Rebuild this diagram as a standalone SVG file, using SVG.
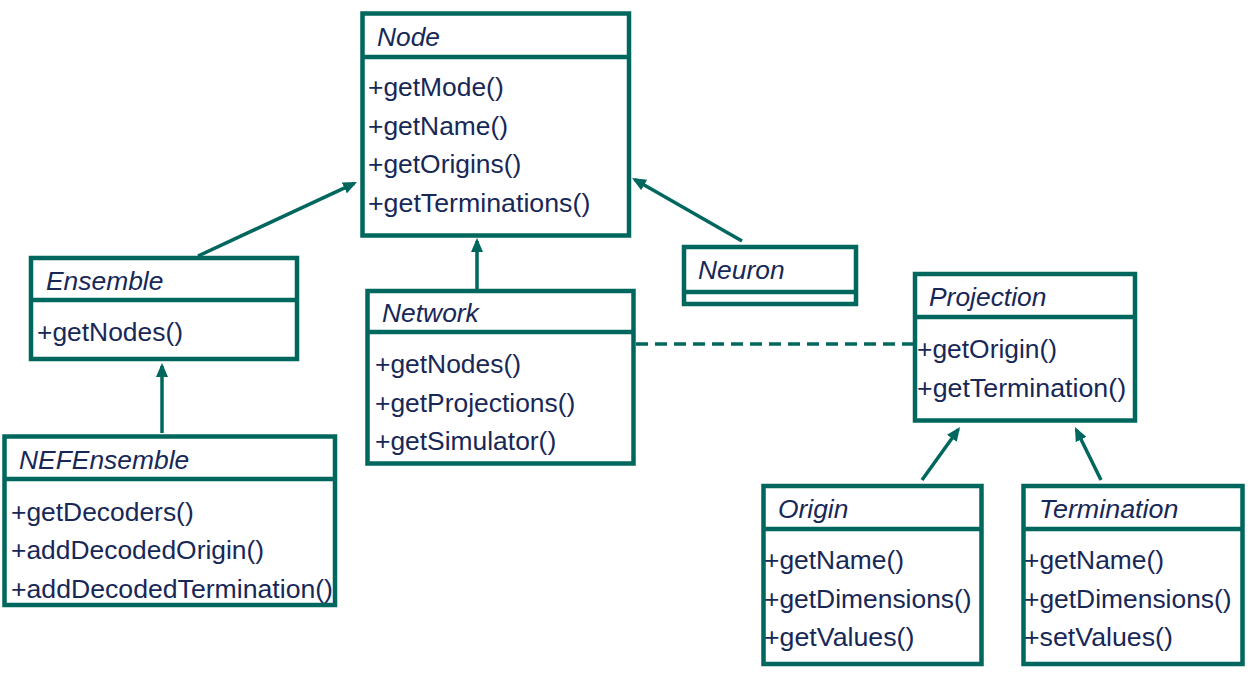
<svg xmlns="http://www.w3.org/2000/svg" width="1251" height="676" viewBox="0 0 1251 676">
  <style>
    .box { fill: #ffffff; stroke: #00675E; stroke-width: 4.5; }
    .div { stroke: #00675E; stroke-width: 4.5; fill: none; }
    .title { font-family: "Liberation Sans", Arial, sans-serif; font-style: italic; font-size: 25px; fill: #172857; }
    .op { font-family: "Liberation Sans", Arial, sans-serif; font-size: 25px; fill: #172857; }
    .link { stroke: #00675E; stroke-width: 3.5; fill: none; }
    .inherit { marker-end: url(#tri); }
    .assoc { stroke-dasharray: 12 7; }
  </style>
  <defs>
    <marker id="tri" markerUnits="userSpaceOnUse" markerWidth="14" markerHeight="12" refX="11" refY="6" orient="auto">
      <path d="M0,0 L14,6 L0,12 z" fill="#00675E"/>
    </marker>
  </defs>
  <rect width="1251" height="676" fill="#ffffff"/>

  <!-- connectors -->
  <g id="connectors">
    <line class="link inherit" x1="198" y1="256" x2="354.3" y2="183.3"/>
    <line class="link inherit" x1="477" y1="289" x2="477" y2="241"/>
    <line class="link inherit" x1="742" y1="241" x2="634.6" y2="179.5"/>
    <line class="link inherit" x1="162" y1="433" x2="162" y2="366"/>
    <line class="link inherit" x1="922" y1="480" x2="958.3" y2="429.4"/>
    <line class="link inherit" x1="1101" y1="480" x2="1076.3" y2="429.7"/>
    <line class="link assoc" x1="636" y1="344" x2="913" y2="344"/>
  </g>

  <!-- Node -->
  <g id="node-Node">
    <rect class="box" x="362.5" y="13.5" width="266.5" height="222"/>
    <line class="div" x1="362.5" y1="57" x2="629" y2="57"/>
    <text class="title" x="377" y="46" textLength="63" lengthAdjust="spacingAndGlyphs">Node</text>
    <text class="op" x="368" y="96" textLength="135.7" lengthAdjust="spacingAndGlyphs">+getMode()</text>
    <text class="op" x="368" y="135" textLength="140.1" lengthAdjust="spacingAndGlyphs">+getName()</text>
    <text class="op" x="368" y="173" textLength="153.3" lengthAdjust="spacingAndGlyphs">+getOrigins()</text>
    <text class="op" x="368" y="212" textLength="222.3" lengthAdjust="spacingAndGlyphs">+getTerminations()</text>
  </g>

  <!-- Ensemble -->
  <g id="node-Ensemble">
    <rect class="box" x="31" y="258" width="266" height="101"/>
    <line class="div" x1="31" y1="300" x2="297" y2="300"/>
    <text class="title" x="46" y="290" textLength="117.4" lengthAdjust="spacingAndGlyphs">Ensemble</text>
    <text class="op" x="37" y="341" textLength="146" lengthAdjust="spacingAndGlyphs">+getNodes()</text>
  </g>

  <!-- NEFEnsemble -->
  <g id="node-NEFEnsemble">
    <rect class="box" x="4.5" y="436.5" width="330.5" height="168.5"/>
    <line class="div" x1="4.5" y1="479" x2="335" y2="479"/>
    <text class="title" x="19" y="469" textLength="170.2" lengthAdjust="spacingAndGlyphs">NEFEnsemble</text>
    <text class="op" x="11" y="521" textLength="182.7" lengthAdjust="spacingAndGlyphs">+getDecoders()</text>
    <text class="op" x="11" y="559" textLength="253.1" lengthAdjust="spacingAndGlyphs">+addDecodedOrigin()</text>
    <text class="op" x="11" y="598" textLength="322" lengthAdjust="spacingAndGlyphs">+addDecodedTermination()</text>
  </g>

  <!-- Network -->
  <g id="node-Network">
    <rect class="box" x="367.5" y="291" width="266" height="172.5"/>
    <line class="div" x1="367.5" y1="332" x2="633.5" y2="332"/>
    <text class="title" x="382" y="322" textLength="96.8" lengthAdjust="spacingAndGlyphs">Network</text>
    <text class="op" x="375" y="373" textLength="146" lengthAdjust="spacingAndGlyphs">+getNodes()</text>
    <text class="op" x="375" y="412" textLength="200.3" lengthAdjust="spacingAndGlyphs">+getProjections()</text>
    <text class="op" x="375" y="450" textLength="181.2" lengthAdjust="spacingAndGlyphs">+getSimulator()</text>
  </g>

  <!-- Neuron -->
  <g id="node-Neuron">
    <rect class="box" x="684" y="247" width="172" height="57"/>
    <line class="div" x1="684" y1="292" x2="856" y2="292"/>
    <text class="title" x="698" y="279" textLength="86.6" lengthAdjust="spacingAndGlyphs">Neuron</text>
  </g>

  <!-- Projection -->
  <g id="node-Projection">
    <rect class="box" x="915" y="274" width="220" height="146.5"/>
    <line class="div" x1="915" y1="317" x2="1135" y2="317"/>
    <text class="title" x="929" y="306" textLength="117.4" lengthAdjust="spacingAndGlyphs">Projection</text>
    <text class="op" x="917" y="358" textLength="140.1" lengthAdjust="spacingAndGlyphs">+getOrigin()</text>
    <text class="op" x="917" y="397" textLength="209.1" lengthAdjust="spacingAndGlyphs">+getTermination()</text>
  </g>

  <!-- Origin -->
  <g id="node-Origin">
    <rect class="box" x="763.5" y="486" width="218" height="178"/>
    <line class="div" x1="763.5" y1="529" x2="981.5" y2="529"/>
    <text class="title" x="778" y="518" textLength="70.4" lengthAdjust="spacingAndGlyphs">Origin</text>
    <text class="op" x="764" y="569" textLength="140.1" lengthAdjust="spacingAndGlyphs">+getName()</text>
    <text class="op" x="764" y="608" textLength="207.6" lengthAdjust="spacingAndGlyphs">+getDimensions()</text>
    <text class="op" x="764" y="646" textLength="150.4" lengthAdjust="spacingAndGlyphs">+getValues()</text>
  </g>

  <!-- Termination -->
  <g id="node-Termination">
    <rect class="box" x="1023.5" y="486" width="219" height="178"/>
    <line class="div" x1="1023.5" y1="529" x2="1242.5" y2="529"/>
    <text class="title" x="1039" y="518" textLength="139.4" lengthAdjust="spacingAndGlyphs">Termination</text>
    <text class="op" x="1024" y="569" textLength="140.1" lengthAdjust="spacingAndGlyphs">+getName()</text>
    <text class="op" x="1024" y="608" textLength="207.6" lengthAdjust="spacingAndGlyphs">+getDimensions()</text>
    <text class="op" x="1024" y="646" textLength="148.9" lengthAdjust="spacingAndGlyphs">+setValues()</text>
  </g>
</svg>
